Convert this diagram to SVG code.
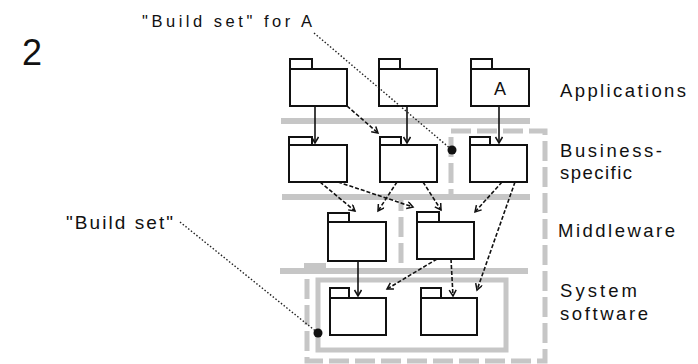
<svg xmlns="http://www.w3.org/2000/svg" width="698" height="364" viewBox="0 0 698 364">
<style>
.bar{fill:#c6c6c6}
.gline{fill:none;stroke:#c6c6c6;stroke-width:5}
.gdash{fill:none;stroke:#c6c6c6;stroke-width:5;stroke-dasharray:20 6}
.pkg path,.pkg rect{fill:#fff;stroke:#111;stroke-width:2}
.c{fill:none;stroke:#111;stroke-width:1.6}
.d{stroke-dasharray:4 2}
.lead{fill:none;stroke:#222;stroke-width:1.4;stroke-dasharray:1.5 2}
.t{font-family:"Liberation Sans",Arial,sans-serif;fill:#111}
</style>
<defs>
<marker id="ah" markerUnits="userSpaceOnUse" markerWidth="10" markerHeight="10" refX="7" refY="4" orient="auto">
<path d="M1,0.5 L7,4 L1,7.5" fill="none" stroke="#111" stroke-width="1.5"/>
</marker>
</defs>
<rect width="698" height="364" fill="#fff"/>

<g id="grey-structure">
<rect class="bar" x="281" y="118" width="249" height="6"/>
<rect class="bar" x="282" y="194" width="248" height="6"/>
<rect class="bar" x="280" y="268" width="248" height="6"/>
<rect class="bar" x="304" y="263" width="22" height="6"/>
<rect class="gline" x="318" y="280" width="188" height="70"/>
<path class="gdash" d="M451,131 H545 V361 H307 V271 H401 V197 H451 Z"/>
</g>

<g id="connectors">
<path class="c" d="M315,106 V143" marker-end="url(#ah)"/>
<path class="c d" d="M347,106 L378,133" marker-end="url(#ah)"/>
<path class="c" d="M407,106 V143" marker-end="url(#ah)"/>
<path class="c" d="M499,106 V143" marker-end="url(#ah)"/>
<path class="c d" d="M320,182 L355,211" marker-end="url(#ah)"/>
<path class="c d" d="M338,182 L413,207" marker-end="url(#ah)"/>
<path class="c d" d="M397,182 L378,211" marker-end="url(#ah)"/>
<path class="c d" d="M423,182 L441,210" marker-end="url(#ah)"/>
<path class="c d" d="M502,182 L475,212" marker-end="url(#ah)"/>
<path class="c d" d="M515,182 L477,290" marker-end="url(#ah)"/>
<path class="c" d="M358,261 V296" marker-end="url(#ah)"/>
<path class="c d" d="M437,259 L387,289" marker-end="url(#ah)"/>
<path class="c d" d="M451,259 L453,296" marker-end="url(#ah)"/>
</g>

<g id="app1" class="pkg"><path d="M290,69 V59 H312 V69"/><rect x="290" y="69" width="57" height="37"/></g>
<g id="app2" class="pkg"><path d="M379,69 V59 H400 V69"/><rect x="379" y="69" width="58" height="37"/></g>
<g id="appA" class="pkg"><path d="M471,69 V59 H492 V69"/><rect x="471" y="69" width="58" height="37"/><text class="t" x="500" y="95" font-size="18" text-anchor="middle">A</text></g>
<g id="biz1" class="pkg"><path d="M289,145 V137 H312 V145"/><rect x="289" y="145" width="58" height="37"/></g>
<g id="biz2" class="pkg"><path d="M380,145 V137 H401 V145"/><rect x="380" y="145" width="57" height="37"/></g>
<g id="bizA" class="pkg"><path d="M470,145 V137 H490 V145"/><rect x="470" y="145" width="57" height="37"/></g>
<g id="mw1" class="pkg"><path d="M328,222 V213 H349 V222"/><rect x="328" y="222" width="58" height="39"/></g>
<g id="mw2" class="pkg"><path d="M417,222 V212 H439 V222"/><rect x="417" y="222" width="57" height="37"/></g>
<g id="sys1" class="pkg"><path d="M330,298 V288 H349 V298"/><rect x="330" y="298" width="56" height="37"/></g>
<g id="sys2" class="pkg"><path d="M421,298 V288 H441 V298"/><rect x="421" y="298" width="56" height="37"/></g>

<g id="annotations">
<path class="lead" d="M314,33 L452,150"/>
<circle cx="452" cy="150" r="4.5" fill="#111"/>
<path class="lead" d="M180,222 L318,333"/>
<circle cx="318" cy="333" r="4.5" fill="#111"/>
<text class="t" x="22" y="65" font-size="36">2</text>
<text class="t" x="142" y="27" font-size="16.5" textLength="170" lengthAdjust="spacing">"Build set" for A</text>
<text class="t" x="66" y="229" font-size="19" textLength="107" lengthAdjust="spacing">"Build set"</text>
</g>

<g id="layer-labels">
<text class="t" x="560" y="97" font-size="18.5" textLength="126" lengthAdjust="spacing">Applications</text>
<text class="t" x="560" y="157" font-size="18.5" textLength="102" lengthAdjust="spacing">Business-</text>
<text class="t" x="560" y="179" font-size="18.5" textLength="72" lengthAdjust="spacing">specific</text>
<text class="t" x="558" y="237" font-size="18.5" textLength="117" lengthAdjust="spacing">Middleware</text>
<text class="t" x="560" y="297" font-size="18.5" textLength="77" lengthAdjust="spacing">System</text>
<text class="t" x="560" y="320" font-size="18.5" textLength="88" lengthAdjust="spacing">software</text>
</g>
</svg>
